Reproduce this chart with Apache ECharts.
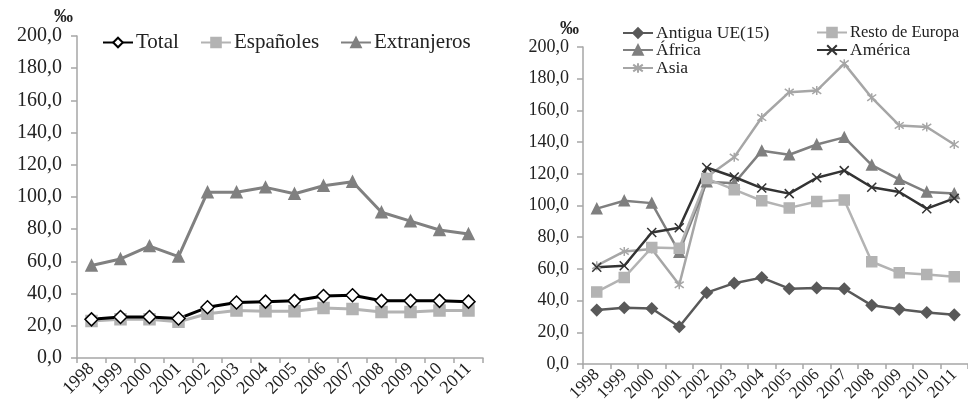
<!DOCTYPE html>
<html><head><meta charset="utf-8">
<script src="https://cdn.jsdelivr.net/npm/echarts@6/dist/echarts.min.js"></script>
<style>html,body{margin:0;padding:0;background:#fff}#c{width:968px;height:409px}</style>
</head><body><div id="c"></div>
<script>
const years = ['1998','1999','2000','2001','2002','2003','2004','2005','2006','2007','2008','2009','2010','2011'];
const yTicks = [0,20,40,60,80,100,120,140,160,180,200];
const total = [24,25.5,25.5,24.5,31.5,34.5,35,35.5,38.5,39,35.5,35.5,35.5,35];
const espanoles = [23,24,24,22.5,27.5,29.5,29,29,31,30.5,28.5,28.5,29.5,29.5];
const extranjeros = [57.5,61.5,69.5,63,103,103,106,102,107,109.5,90.5,85,79.5,77];
const antiguaUE = [34,35.5,35,23.5,45,51,54.5,47.5,48,47.5,37,34.5,32.5,31];
const restoEuropa = [45.5,54.5,73.5,73,117,110,103,98.5,102.5,103.5,64.5,57.5,56.5,55];
const africa = [98,103,101.5,70.5,115,114,134.5,132,138.5,143,125.5,116.5,108.5,107.5];
const america = [61,62,83,86,124,118,111,107.5,117.5,122,111.5,108.5,98,104.5];
const asia = [62,71,72.5,50,118,130.5,155.5,171.5,172.5,189.5,168,150.5,149.5,138.5];

const FONT = 'Liberation Serif';
const axisColor = '#a6a6a6';

function xAxis(gi,fs){
  return {type:'category', gridIndex:gi, data:years, boundaryGap:true,
    axisLine:{lineStyle:{color:axisColor,width:1.5}},
    axisTick:{show:true,length:5,lineStyle:{color:axisColor,width:1.5}},
    axisLabel:{rotate:45,color:'#222',fontFamily:FONT,fontSize:fs,margin:8,interval:0}};
}
function yAxis(gi,fs,m){
  return {type:'value', gridIndex:gi, min:0, max:200, interval:20,
    name:'‰', nameLocation:'end', nameGap:6,
    nameTextStyle:{fontFamily:FONT,fontSize:19,fontWeight:'bold',color:'#222',align:'right',padding:[0,4,0,0]},
    axisLine:{show:true,lineStyle:{color:axisColor,width:1.5}},
    axisTick:{show:true,length:6,lineStyle:{color:axisColor,width:1.5}},
    splitLine:{show:false},
    axisLabel:{color:'#222',fontFamily:FONT,fontSize:fs,margin:m,
      formatter:v=>yTicks.includes(v)?v.toFixed(1).replace('.',','):''}};
}
function line(name,data,gi,color,symbol,size,fill,lw){
  return {name, type:'line', xAxisIndex:gi, yAxisIndex:gi, data,
    symbol, symbolSize:size, showSymbol:true,
    lineStyle:{color,width:lw},
    itemStyle:{color:fill, borderColor:color, borderWidth:1.5},
    emphasis:{disabled:true}, animation:false};
}
function legend(name,left,top,fs){
  return {data:[name], left, top, itemWidth:30, itemHeight:12, itemGap:4, padding:0,
    textStyle:{fontFamily:FONT,fontSize:fs,color:'#222',padding:[0,0,0,-2]}};
}

const option = {
  backgroundColor:'#fff',
  grid:[{left:77,right:485,top:36,bottom:51},{left:583,right:-2,top:47,bottom:45}],
  xAxis:[xAxis(0,18),xAxis(1,17)],
  yAxis:[yAxis(0,20,15),yAxis(1,18,14)],
  legend:[
    legend('Total',102,32,21), legend('Españoles',200,32,21), legend('Extranjeros',340,32,21),
    legend('Antigua UE(15)',622,24,17.5), legend('Resto de Europa',816,24,16.5),
    legend('África',622,41,17.5), legend('América',816,41,17.5), legend('Asia',622,59,17.5)
  ],
  series:[
    line('Extranjeros',extranjeros,0,'#808080','triangle',11,'#808080',3),
    line('Españoles',espanoles,0,'#b3b3b3','rect',11,'#b3b3b3',3),
    line('Total',total,0,'#000','diamond',13,'#fff',3),
    line('Asia',asia,1,'#a6a6a6','path://M0,0L10,10M10,0L0,10M5,-2L5,12',9,'none',2.5),
    line('África',africa,1,'#7f7f7f','triangle',10,'#7f7f7f',2.5),
    line('América',america,1,'#333','path://M0,0L10,10M10,0L0,10',9,'none',2.5),
    line('Resto de Europa',restoEuropa,1,'#b3b3b3','rect',10,'#b3b3b3',2.5),
    line('Antigua UE(15)',antiguaUE,1,'#595959','diamond',11,'#595959',2.5)
  ]
};
const chart = echarts.init(document.getElementById('c'),null,{renderer:'canvas'});
chart.setOption(option);
</script></body></html>
